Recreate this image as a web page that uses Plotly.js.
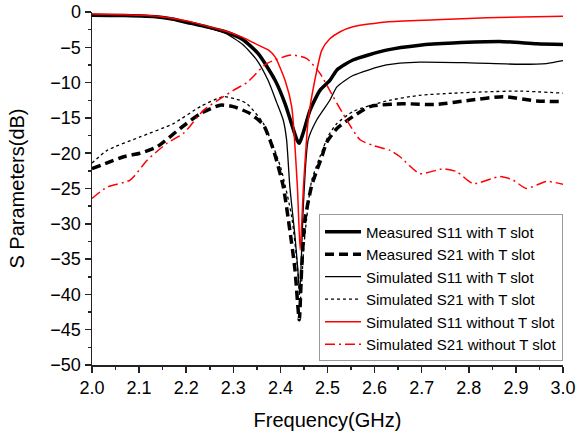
<!DOCTYPE html>
<html>
<head>
<meta charset="utf-8">
<script src="https://cdn.plot.ly/plotly-3.0.1.min.js"></script>
<style>html,body{margin:0;padding:0;background:#fff;}#chart{width:578px;height:435px;}</style>
</head>
<body>
<div id="chart"></div>
<script>
// Measured S11 with T slot
const measS11_f = [2.0, 2.07, 2.14, 2.17, 2.21, 2.244, 2.283, 2.32, 2.353, 2.389, 2.41, 2.435, 2.440, 2.448, 2.463, 2.484, 2.505, 2.52, 2.554, 2.625, 2.696, 2.767, 2.873, 2.944, 3.0];
const measS11_db = [-0.45, -0.5, -0.7, -1.0, -1.6, -2.1, -2.8, -3.9, -5.9, -9.7, -13.0, -18.1, -18.6, -17.2, -13.9, -11.1, -9.7, -8.2, -6.8, -5.4, -4.7, -4.4, -4.2, -4.5, -4.6];
// Measured S21 with T slot
const measS21_f = [2.0, 2.067, 2.102, 2.138, 2.187, 2.23, 2.272, 2.3, 2.336, 2.364, 2.385, 2.406, 2.42, 2.431, 2.44, 2.445, 2.452, 2.466, 2.477, 2.488, 2.498, 2.52, 2.554, 2.59, 2.66, 2.73, 2.802, 2.873, 2.944, 3.0];
const measS21_db = [-22.2, -20.5, -20.0, -19.1, -16.5, -14.4, -13.2, -13.4, -14.4, -16.0, -19.5, -24.7, -30.9, -36.5, -43.6, -36.5, -29.5, -24.7, -22.5, -20.5, -18.5, -16.5, -14.8, -13.4, -13.0, -13.1, -12.5, -12.0, -12.6, -12.7];
// Simulated S11 with T slot
const simS11_f = [2.0, 2.07, 2.14, 2.17, 2.21, 2.244, 2.283, 2.32, 2.35, 2.374, 2.392, 2.406, 2.413, 2.42, 2.431, 2.437, 2.441, 2.446, 2.449, 2.459, 2.477, 2.505, 2.52, 2.554, 2.625, 2.696, 2.802, 2.908, 2.965, 3.0];
const simS11_db = [-0.5, -0.55, -0.75, -1.05, -1.65, -2.2, -3.0, -4.6, -6.8, -9.7, -12.8, -15.3, -18.0, -24.7, -31.8, -36.5, -40.0, -32.0, -27.1, -18.1, -15.3, -12.5, -10.6, -9.0, -7.5, -7.1, -7.2, -7.4, -7.3, -6.9];
// Simulated S21 with T slot
const simS21_f = [2.0, 2.032, 2.102, 2.173, 2.23, 2.279, 2.314, 2.329, 2.364, 2.4, 2.424, 2.436, 2.442, 2.45, 2.466, 2.484, 2.502, 2.52, 2.554, 2.625, 2.696, 2.767, 2.838, 2.908, 3.0];
const simS21_db = [-21.4, -19.6, -17.7, -15.8, -13.4, -12.0, -12.5, -13.0, -15.8, -21.9, -29.0, -36.0, -41.0, -33.0, -24.0, -20.5, -17.5, -15.8, -14.1, -12.6, -11.8, -11.5, -11.3, -11.2, -11.5];
// Simulated S11 without T slot
const noS11_f = [2.0, 2.07, 2.14, 2.17, 2.21, 2.244, 2.283, 2.32, 2.353, 2.375, 2.389, 2.41, 2.424, 2.436, 2.442, 2.449, 2.459, 2.473, 2.488, 2.505, 2.527, 2.554, 2.625, 2.73, 2.838, 3.0];
const noS11_db = [-0.3, -0.4, -0.6, -0.9, -1.4, -2.0, -2.7, -3.6, -4.7, -5.4, -6.4, -9.7, -13.4, -24.7, -33.7, -24.7, -15.3, -9.7, -5.4, -3.8, -2.8, -2.1, -1.4, -1.1, -0.8, -0.6];
// Simulated S21 without T slot
const noS21_f = [2.0, 2.032, 2.081, 2.117, 2.159, 2.194, 2.237, 2.279, 2.3, 2.329, 2.371, 2.424, 2.456, 2.484, 2.512, 2.541, 2.569, 2.597, 2.633, 2.654, 2.696, 2.746, 2.774, 2.809, 2.866, 2.894, 2.922, 2.965, 3.0];
const noS21_db = [-26.4, -24.8, -23.8, -21.0, -18.6, -17.2, -13.9, -12.0, -11.1, -10.0, -7.3, -6.1, -6.6, -8.7, -12.0, -15.3, -18.1, -18.9, -19.6, -20.5, -22.9, -22.2, -22.6, -24.3, -23.3, -23.8, -25.0, -24.0, -24.4];

const names = ["Measured S11 with T slot", "Measured S21 with T slot", "Simulated S11 with T slot", "Simulated S21 with T slot", "Simulated S11 without T slot", "Simulated S21 without T slot"];

const FONT = "Arial, 'Liberation Sans', sans-serif";
function tr(x, y, name, color, width, dash) {
  return {x: x, y: y, name: name, type: 'scatter', mode: 'lines',
    line: {color: color, width: width, dash: dash, shape: 'spline', smoothing: 0.6}};
}
const data = [
  tr(measS11_f, measS11_db, names[0], '#000000', 3.5, 'solid'),
  tr(measS21_f, measS21_db, names[1], '#000000', 3.5, '9px,5px'),
  tr(simS11_f, simS11_db, names[2], '#000000', 1.3, 'solid'),
  tr(simS21_f, simS21_db, names[3], '#000000', 1.3, '3px,3px'),
  tr(noS11_f, noS11_db, names[4], '#ff0000', 1.5, 'solid'),
  tr(noS21_f, noS21_db, names[5], '#ff0000', 1.5, '10px,4px,2px,4px')
];
const layout = {
  width: 578, height: 435,
  margin: {l: 92, r: 15, t: 12, b: 70},
  paper_bgcolor: '#fff', plot_bgcolor: '#fff',
  font: {family: FONT, color: '#000'},
  showlegend: true,
  legend: {x: 1, xanchor: 'right', y: 0.01, yanchor: 'bottom',
    bgcolor: '#fff', bordercolor: '#9a9a9a', borderwidth: 1,
    font: {family: FONT, size: 15, color: '#000'}, itemwidth: 36, tracegroupgap: 0},
  xaxis: {range: [2, 3], dtick: 0.1, tick0: 2, tickformat: '.1f',
    showgrid: false, zeroline: false, showline: true, linecolor: '#222', linewidth: 1.5,
    ticks: 'outside', ticklen: 6, tickwidth: 1.5, tickcolor: '#222',
    minor: {dtick: 0.05, ticks: 'outside', ticklen: 3, tickwidth: 1.5, tickcolor: '#222', showgrid: false},
    tickfont: {family: FONT, size: 18, color: '#000'},
    title: {text: 'Frequency(GHz)', font: {family: FONT, size: 20, color: '#000'}, standoff: 16}},
  yaxis: {range: [-50, 0], dtick: 5, tick0: 0,
    showgrid: false, zeroline: false, showline: true, linecolor: '#222', linewidth: 1.5,
    ticks: 'outside', ticklen: 6, tickwidth: 1.5, tickcolor: '#222',
    minor: {dtick: 2.5, ticks: 'outside', ticklen: 3, tickwidth: 1.5, tickcolor: '#222', showgrid: false},
    tickfont: {family: FONT, size: 18, color: '#000'},
    title: {text: 'S Parameters(dB)', font: {family: FONT, size: 20, color: '#000'}, standoff: 20}}
};
Plotly.newPlot('chart', data, layout, {displayModeBar: false, staticPlot: true});
</script>
</body>
</html>
